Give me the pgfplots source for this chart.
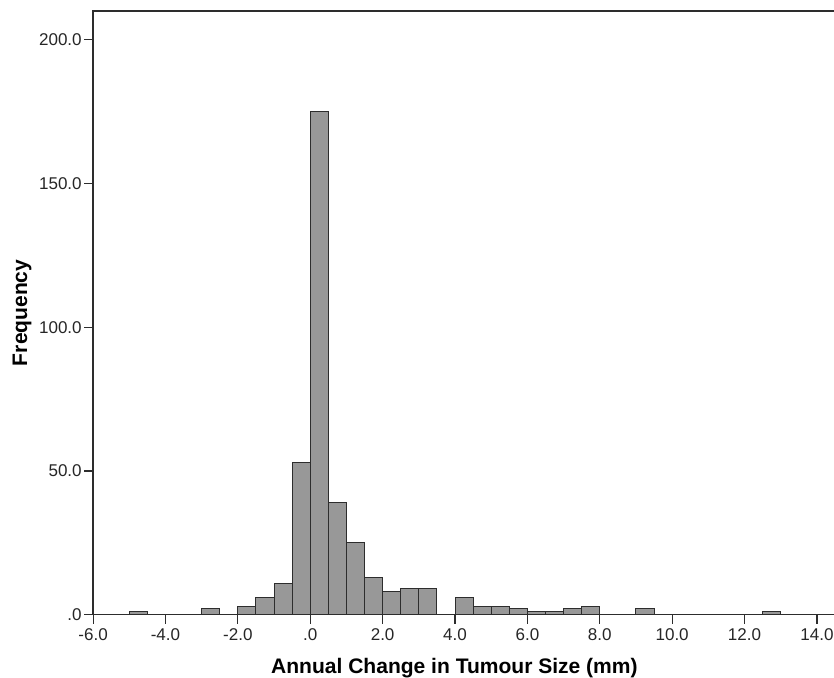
\documentclass[border=0pt]{standalone}
\usepackage{fontspec}
\setmainfont{Liberation Sans}
\usepackage{pgfplots}
\pgfplotsset{compat=1.18}
\definecolor{barfill}{RGB}{152,152,152}
\definecolor{edge}{RGB}{45,45,45}
\begin{document}
\begin{tikzpicture}
\begin{axis}[
  name=ax,
  scale only axis,
  width=370.5pt, height=301.5pt,
  xmin=-6, xmax=14.5, ymin=0, ymax=210,
  axis line style={edge, line width=0.75pt},
  tick style={edge, line width=0.6pt},
  tick align=outside,
  major tick length=4.5pt,
  xtick={-6,-4,-2,0,2,4,6,8,10,12,14},
  xticklabels={-6.0,-4.0,-2.0,.0,2.0,4.0,6.0,8.0,10.0,12.0,14.0},
  ytick={0,50,100,150,200},
  yticklabels={.0,50.0,100.0,150.0,200.0},
  xtick pos=bottom, ytick pos=left,
  tick label style={font=\fontsize{8.5}{10}\selectfont, text=black!85, inner sep=1pt},
  xticklabel style={yshift=-1pt},
  xlabel={Annual Change in Tumour Size (mm)},
  ylabel={Frequency},
  label style={font=\fontsize{10.5}{12}\selectfont\bfseries},
  xlabel style={at={(axis description cs:0.487,-0.0600)}, anchor=north},
  ylabel style={at={(axis description cs:-0.0959,0.5)}, anchor=center},
  clip=false,
]
\addplot[ybar, bar width=0.5, fill=barfill, draw=edge, line width=0.5pt] coordinates {
(-4.75,1) (-2.75,2) (-1.75,3) (-1.25,6) (-0.75,11) (-0.25,53) (0.25,175)
(0.75,39) (1.25,25) (1.75,13) (2.25,8) (2.75,9) (3.25,9) (4.25,6)
(4.75,3) (5.25,3) (5.75,2) (6.25,1) (6.75,1) (7.25,2) (7.75,3)
(9.25,2) (12.75,1)
};
\end{axis}
\pgfresetboundingbox
\path[use as bounding box] ([xshift=-46.5pt,yshift=-31.5pt]ax.south west) rectangle ([xshift=-0.5pt,yshift=5.5pt]ax.north east);
\end{tikzpicture}
\end{document}
